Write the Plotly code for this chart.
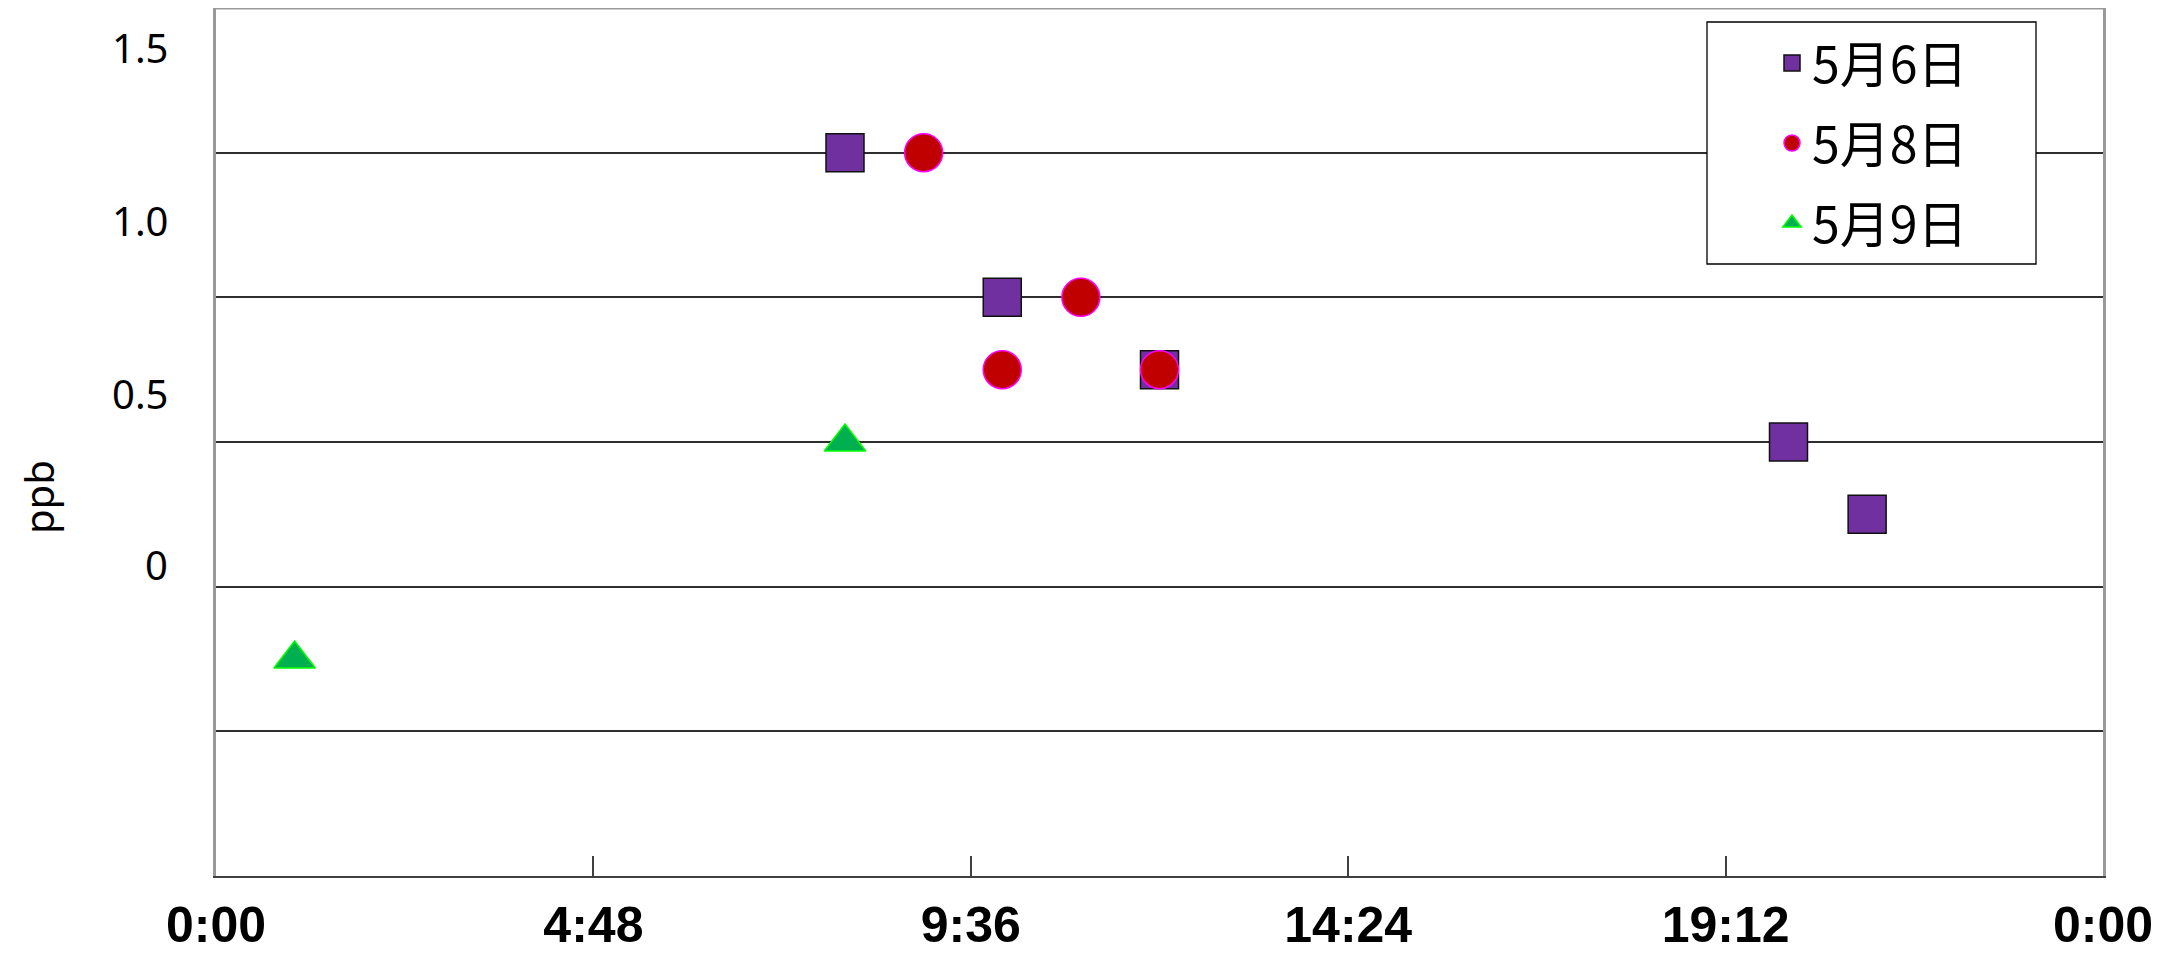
import plotly.graph_objects as go

# ---- data (time of day, ppb) ----
series_names = ["5月6日", "5月8日", "5月9日"]
times_0506 = ["8:00", "10:00", "12:00", "20:00", "21:00"]
values_0506 = [1.5, 1.0, 0.75, 0.5, 0.25]
times_0508 = ["9:00", "10:00", "11:00", "12:00"]
values_0508 = [1.5, 0.75, 1.0, 0.75]
times_0509 = ["1:00", "8:00"]
values_0509 = [-0.25, 0.5]

y_tick_text = ["1.5", "1.0", "0.5", "0"]
x_tick_text_fmt = "%-H:%M"

BASE_DAY = "2000-01-01"


def to_dt(t):
    h, m = t.split(":")
    return f"{BASE_DAY} {int(h):02d}:{int(m):02d}:00"


# layout constants (label placement of the original chart)
y_label_pos = [1.862, 1.265, 0.669, 0.075]

fig = go.Figure()

styles = [
    dict(symbol="square", size=38, color="#7030A0", line=dict(color="#111111", width=1.5)),
    dict(symbol="circle", size=38, color="#C00000", line=dict(color="#FF00FF", width=1.5)),
    dict(symbol="triangle-up", size=36, color="#00B050", line=dict(color="#00FF00", width=1.5)),
]
data = [(times_0506, values_0506), (times_0508, values_0508), (times_0509, values_0509)]

for name, (ts, vs), st in zip(series_names, data, styles):
    fig.add_trace(go.Scatter(
        x=[to_dt(t) for t in ts], y=vs, mode="markers", name=name,
        legendgroup=name, marker=st,
    ))

# the page body has an 8px margin: figure is shrunk by it so it fits the window
OFF = 8
W, H = 2182 - OFF, 961 - OFF
# target plot area in window pixels: x 216..2103, y 7..876
L, R, T, B = 216 - OFF, 2182 - 2103, 0, 961 - 876
pw = W - L - R
ph = H - T - B


def px_x(x):
    return (x - OFF - L) / pw


def px_y(y):
    return (H - B - (y - OFF)) / ph


annotations = [
    dict(text="ppb", xref="paper", yref="paper", x=px_x(38), y=px_y(497),
         xanchor="center", yanchor="middle",
         showarrow=False, textangle=-90,
         font=dict(family="Noto Sans", size=40, color="black")),
]
for v, t in zip(y_label_pos, y_tick_text):
    annotations.append(dict(
        text=t, xref="paper", yref="y", x=0, y=v, xanchor="right", yanchor="middle",
        xshift=-46, showarrow=False,
        font=dict(family="Noto Sans", size=40, color="black"),
    ))

fig.update_layout(
    width=W, height=H,
    margin=dict(l=L, r=R, t=T, b=B, autoexpand=False),
    paper_bgcolor="white", plot_bgcolor="white",
    showlegend=True,
    legend=dict(
        x=px_x(1772), xanchor="left", y=px_y(24), yanchor="top",
        bgcolor="rgba(0,0,0,0)", borderwidth=0,
        font=dict(family="Noto Sans CJK JP", size=50, color="black"),
        traceorder="grouped", tracegroupgap=12,
    ),
    xaxis=dict(
        type="date", automargin=False,
        range=[f"{BASE_DAY} 00:00:00", "2000-01-02 00:00:00"],
        tick0=f"{BASE_DAY} 00:00:00", dtick=4.8 * 3600 * 1000,
        tickformat=x_tick_text_fmt,
        showgrid=False, zeroline=False,
        showline=True, linecolor="#404040", linewidth=2,
        ticks="inside", ticklen=20, tickwidth=2, tickcolor="#404040",
        tickfont=dict(family="Liberation Sans", size=50, color="black", weight="bold"),
        ticklabelstandoff=4,
    ),
    yaxis=dict(
        range=[-1, 2], dtick=0.5, tick0=0, automargin=False,
        showgrid=True, gridcolor="#2e2e2e", gridwidth=1.5,
        zeroline=False, showticklabels=False, ticks="",
        showline=True, linecolor="#999999", linewidth=3, mirror=True,
    ),
    shapes=[
        dict(type="line", xref="paper", yref="paper", x0=0, x1=1, y0=1, y1=1,
             line=dict(color="#999999", width=3)),
        dict(type="rect", xref="paper", yref="paper",
             x0=px_x(1707), x1=px_x(2036), y0=px_y(264), y1=px_y(22),
             fillcolor="white", line=dict(color="black", width=1.3), layer="above"),
    ],
    annotations=annotations,
)

fig.write_html("out.html")
